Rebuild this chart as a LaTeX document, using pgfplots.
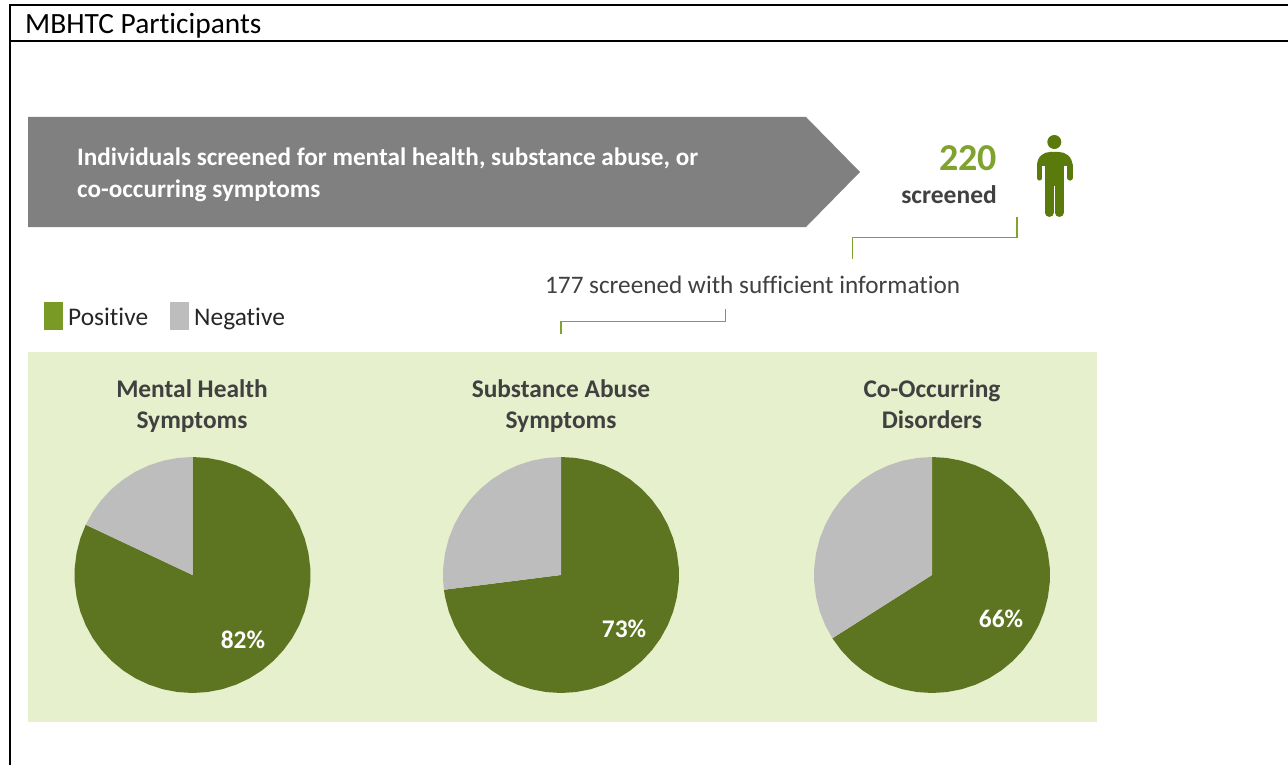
\documentclass[border=0pt]{standalone}
\usepackage{pgfplots}
\usepackage{pgfplotstable}
\pgfplotsset{compat=1.18}
\usepgfplotslibrary{polar}
\usepackage{fontspec}
\setmainfont[Ligatures=NoCommon]{Carlito}
\definecolor{pospie}{HTML}{5D7520}
\definecolor{negpie}{HTML}{BDBDBD}
\definecolor{poskey}{HTML}{7A9A26}
\definecolor{panel}{HTML}{E6F0CC}
\definecolor{banner}{HTML}{808080}
\definecolor{figure}{HTML}{5A7A0C}
\definecolor{accent}{HTML}{7FA32E}
\definecolor{ink}{HTML}{404040}
\newcommand{\fs}[1]{\fontsize{#1}{#1}\selectfont}
% Each pie runs clockwise from 12 o'clock; pct is the share in percent, r the radius.
\pgfplotsset{piestyle/.style={
  scale only axis, width=236pt, height=236pt, anchor=center, clip=false, hide axis,
  xmin=0, xmax=360, ymin=0, ymax=1}}
\newcommand{\pieslice}[2]{\addplot[fill=#1,draw=none] table[row sep=\\, x expr={90-3.6*\thisrow{pct}}, y=r] {pct r\\ #2}; }
\begin{document}
\begin{tikzpicture}
\begin{scope}[x=1pt,y=-1pt]
\path[use as bounding box] (0,0) rectangle (1288,765);
% frame and header rule
\draw[line width=2pt,black] (10,765) -- (10,5) -- (1288,5);
\draw[line width=2pt,black] (10,41.5) -- (1288,41.5);
\node[anchor=base west,inner sep=0pt,black] at (25,34) {\fs{29.4}MBHTC Participants};
% banner arrow
\fill[banner] (28,117) -- (806,117) -- (860,172) -- (806,227) -- (28,227) -- cycle;
\node[anchor=base west,inner sep=0pt,white] at (77,166) {\fs{25.2}\bfseries Individuals screened for mental health, substance abuse, or};
\node[anchor=base west,inner sep=0pt,white] at (77,197) {\fs{25.2}\bfseries co-occurring symptoms};
\node[anchor=base east,inner sep=0pt,accent] at (997,171) {\fs{38}\bfseries 220};
\node[anchor=base east,inner sep=0pt,ink] at (997,203) {\fs{25.5}\bfseries screened};
% standing figure
\fill[figure] (1054.3,142) circle (7);
\fill[figure] (1037,166) .. controls (1037,156) and (1044,152) .. (1050,152) -- (1059,152) .. controls (1065,152) and (1072.5,156) .. (1072.5,166) -- cycle;
\draw[figure,line width=5.2pt,line cap=round] (1039.6,165) -- (1039.6,178);
\draw[figure,line width=5.2pt,line cap=round] (1069.9,165) -- (1069.9,178);
\fill[figure] (1045,160) rectangle (1063.5,186);
\draw[figure,line width=8.5pt,line cap=round] (1049.25,185) -- (1049.25,212.7);
\draw[figure,line width=8.5pt,line cap=round] (1059.25,185) -- (1059.25,212.7);
% connector brackets
\draw[accent,line width=1.2pt] (1017,217) -- (1017,237.5) -- (852.5,237.5) -- (852.5,259);
\node[anchor=base west,inner sep=0pt,ink] at (545,293) {\fs{25.2}177 screened with sufficient information};
\draw[accent,line width=1.2pt] (725.5,309) -- (725.5,321.5) -- (561,321.5) -- (561,334);
% key
\fill[poskey] (44,302) rectangle (63,330);
\node[anchor=base west,inner sep=0pt,black!85] at (68,325) {\fs{25.4}Positive};
\fill[negpie] (170,302) rectangle (189,330);
\node[anchor=base west,inner sep=0pt,black!85] at (194,325) {\fs{25.4}Negative};
% panel behind the pies
\fill[panel] (28,352) rectangle (1097,722);
\node[anchor=base,inner sep=0pt,ink] at (192,397) {\fs{25.4}\bfseries Mental Health};
\node[anchor=base,inner sep=0pt,ink] at (192,428) {\fs{25.4}\bfseries Symptoms};
\node[anchor=base,inner sep=0pt,ink] at (561,397) {\fs{25.4}\bfseries Substance Abuse};
\node[anchor=base,inner sep=0pt,ink] at (561,428) {\fs{25.4}\bfseries Symptoms};
\node[anchor=base,inner sep=0pt,ink] at (932,397) {\fs{25.4}\bfseries Co-Occurring};
\node[anchor=base,inner sep=0pt,ink] at (932,428) {\fs{25.4}\bfseries Disorders};
\end{scope}

\begin{polaraxis}[piestyle, at={(192.5pt,-575pt)}]
\pieslice{pospie}{0 0\\ 0 1\\ 2 1\\ 4 1\\ 6 1\\ 8 1\\ 10 1\\ 12 1\\ 14 1\\ 16 1\\ 18 1\\ 20 1\\ 22 1\\ 24 1\\ 26 1\\ 28 1\\ 30 1\\ 32 1\\ 34 1\\ 36 1\\ 38 1\\ 40 1\\ 42 1\\ 44 1\\ 46 1\\ 48 1\\ 50 1\\ 52 1\\ 54 1\\ 56 1\\ 58 1\\ 60 1\\ 62 1\\ 64 1\\ 66 1\\ 68 1\\ 70 1\\ 72 1\\ 74 1\\ 76 1\\ 78 1\\ 80 1\\ 82 1\\ 82 0\\}
\pieslice{negpie}{82 0\\ 82 1\\ 84 1\\ 86 1\\ 88 1\\ 90 1\\ 92 1\\ 94 1\\ 96 1\\ 98 1\\ 100 1\\ 100 0\\}
\end{polaraxis}
\begin{polaraxis}[piestyle, at={(561pt,-575pt)}]
\pieslice{pospie}{0 0\\ 0 1\\ 2 1\\ 4 1\\ 6 1\\ 8 1\\ 10 1\\ 12 1\\ 14 1\\ 16 1\\ 18 1\\ 20 1\\ 22 1\\ 24 1\\ 26 1\\ 28 1\\ 30 1\\ 32 1\\ 34 1\\ 36 1\\ 38 1\\ 40 1\\ 42 1\\ 44 1\\ 46 1\\ 48 1\\ 50 1\\ 52 1\\ 54 1\\ 56 1\\ 58 1\\ 60 1\\ 62 1\\ 64 1\\ 66 1\\ 68 1\\ 70 1\\ 72 1\\ 73 1\\ 73 0\\}
\pieslice{negpie}{73 0\\ 73 1\\ 74 1\\ 76 1\\ 78 1\\ 80 1\\ 82 1\\ 84 1\\ 86 1\\ 88 1\\ 90 1\\ 92 1\\ 94 1\\ 96 1\\ 98 1\\ 100 1\\ 100 0\\}
\end{polaraxis}
\begin{polaraxis}[piestyle, at={(932pt,-575pt)}]
\pieslice{pospie}{0 0\\ 0 1\\ 2 1\\ 4 1\\ 6 1\\ 8 1\\ 10 1\\ 12 1\\ 14 1\\ 16 1\\ 18 1\\ 20 1\\ 22 1\\ 24 1\\ 26 1\\ 28 1\\ 30 1\\ 32 1\\ 34 1\\ 36 1\\ 38 1\\ 40 1\\ 42 1\\ 44 1\\ 46 1\\ 48 1\\ 50 1\\ 52 1\\ 54 1\\ 56 1\\ 58 1\\ 60 1\\ 62 1\\ 64 1\\ 66 1\\ 66 0\\}
\pieslice{negpie}{66 0\\ 66 1\\ 68 1\\ 70 1\\ 72 1\\ 74 1\\ 76 1\\ 78 1\\ 80 1\\ 82 1\\ 84 1\\ 86 1\\ 88 1\\ 90 1\\ 92 1\\ 94 1\\ 96 1\\ 98 1\\ 100 1\\ 100 0\\}
\end{polaraxis}
\node[inner sep=0pt,white] at (243pt,-640pt) {\fs{25.4}\bfseries 82\%};
\node[inner sep=0pt,white] at (624pt,-629pt) {\fs{25.4}\bfseries 73\%};
\node[inner sep=0pt,white] at (1001pt,-619pt) {\fs{25.4}\bfseries 66\%};
\end{tikzpicture}
\end{document}
